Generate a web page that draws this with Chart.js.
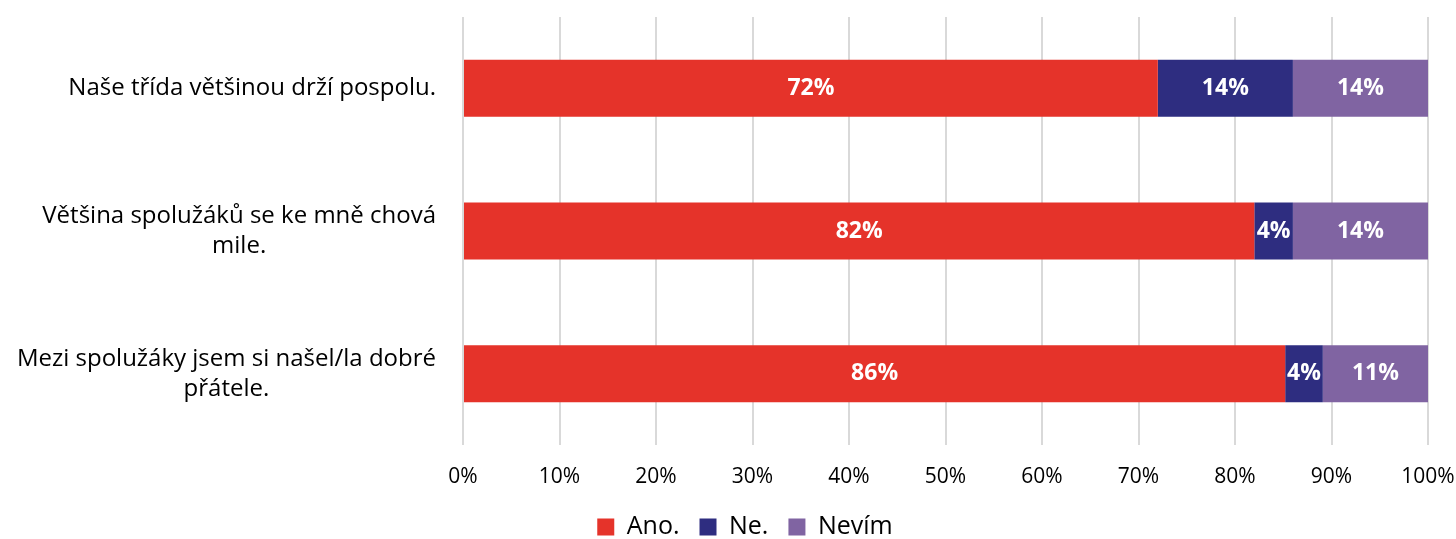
<!DOCTYPE html>
<html>
<head>
<meta charset="utf-8">
<script src="https://cdn.jsdelivr.net/npm/chart.js@4/dist/chart.umd.min.js"></script>
<style>
	html, body { margin: 0; padding: 0; background: #fff; }
	#wrap { width: 1456px; height: 539px; }
</style>
</head>
<body>
<div id="wrap"><canvas id="c"></canvas></div>
<script>
// data
const categories = [
	['Naše třída většinou drží pospolu.'],
	['Většina spolužáků se ke mně chová', 'mile.'],
	['Mezi spolužáky jsem si našel/la dobré', 'přátele.']
];
const seriesNames = ['Ano.', 'Ne.', 'Nevím'];
const ano = [72, 82, 85.2];
const ne = [14, 4, 3.9];
const nevim = [14, 14, 10.9];
const anoLabels = ['72%', '82%', '86%'];
const neLabels = ['14%', '4%', '4%'];
const nevimLabels = ['14%', '14%', '11%'];
const xTicks = [0, 10, 20, 30, 40, 50, 60, 70, 80, 90, 100];

const FONT = "'Open Sans', 'Noto Sans', sans-serif";

// wrapped category labels, right aligned block, lines centred inside it
const categoryLabels = {
	id: 'categoryLabels',
	afterDraw(chart) {
		const ctx = chart.ctx;
		const y = chart.scales.y;
		const right = 436;
		const lh = 30;
		ctx.save();
		ctx.font = '24px ' + FONT;
		ctx.fillStyle = '#000';
		ctx.textBaseline = 'middle';
		ctx.textAlign = 'center';
		categories.forEach((lines, i) => {
			const w = Math.max(...lines.map((l) => ctx.measureText(l).width));
			const cx = right - w / 2;
			const cy = y.getPixelForValue(i);
			const top = cy - (lines.length - 1) * lh / 2;
			lines.forEach((l, k) => ctx.fillText(l, cx, top + k * lh));
		});
		ctx.restore();
	}
};

// value labels inside the bars
const barLabels = {
	id: 'barLabels',
	afterDatasetsDraw(chart) {
		const ctx = chart.ctx;
		const texts = [anoLabels, neLabels, nevimLabels];
		ctx.save();
		ctx.font = 'bold 23px ' + FONT;
		ctx.fillStyle = '#fff';
		ctx.textAlign = 'center';
		ctx.textBaseline = 'middle';
		chart.data.datasets.forEach((ds, di) => {
			chart.getDatasetMeta(di).data.forEach((bar, i) => {
				const cx = (bar.x + bar.base) / 2;
				ctx.fillText(texts[di][i], cx, bar.y);
			});
		});
		ctx.restore();
	}
};

new Chart(document.getElementById('c'), {
	type: 'bar',
	data: {
		labels: categories.map((c) => c.join(' ')),
		datasets: [
			{ label: seriesNames[0], data: ano, backgroundColor: '#E5332A' },
			{ label: seriesNames[1], data: ne, backgroundColor: '#2E2D80' },
			{ label: seriesNames[2], data: nevim, backgroundColor: '#8064A2' }
		]
	},
	options: {
		indexAxis: 'y',
		responsive: true,
		maintainAspectRatio: false,
		animation: false,
		barPercentage: 0.4,
		categoryPercentage: 1,
		layout: { padding: { left: 34, right: 0, top: 17, bottom: -10.5 } },
		scales: {
			x: {
				stacked: true,
				min: 0,
				max: 100,
				afterBuildTicks: (s) => { s.ticks = xTicks.map((v) => ({ value: v })); },
				afterFit: (s) => { s.height = 49.5; s.paddingLeft = 0; s.paddingRight = 0; },
				grid: { color: '#D9D9D9', lineWidth: 2, drawTicks: false },
				border: { display: false },
				ticks: {
					padding: 19,
					color: '#000',
					font: { family: FONT, size: 21 },
					callback: (v) => v + '%'
				}
			},
			y: {
				stacked: true,
				display: true,
				grid: { display: false },
				border: { display: false },
				ticks: { display: false },
				afterFit: (s) => { s.width = 429; }
			},
			y2: {
				type: 'linear',
				position: 'right',
				display: true,
				grid: { display: false },
				border: { display: false },
				ticks: { display: false },
				afterFit: (s) => { s.width = 28; }
			}
		},
		plugins: {
			legend: {
				position: 'bottom',
				labels: {
					boxWidth: 17,
					boxHeight: 17,
					padding: 20,
					color: '#000',
					font: { family: FONT, size: 25 }
				}
			},
			tooltip: { enabled: false }
		}
	},
	plugins: [categoryLabels, barLabels]
});
</script>
</body>
</html>
